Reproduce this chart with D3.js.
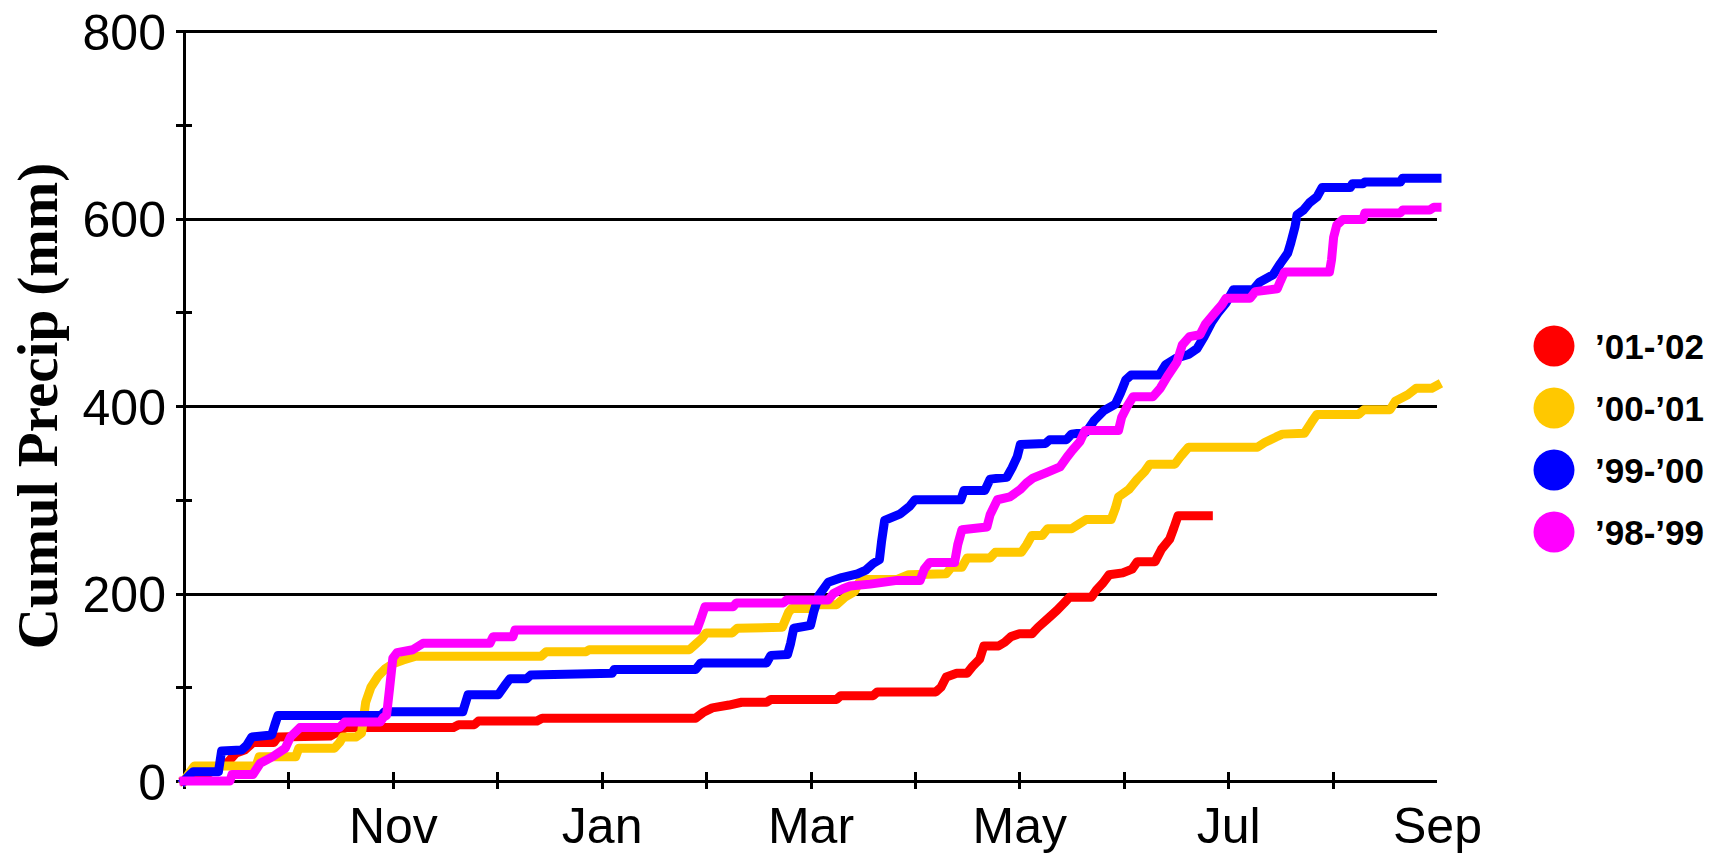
<!DOCTYPE html>
<html>
<head>
<meta charset="utf-8">
<script src="https://cdn.jsdelivr.net/npm/d3@7"></script>
<style>
  body { margin: 0; background: #fff; }
  svg { display: block; }
  .tick text { font-family: "Liberation Sans", Arial, sans-serif; font-size: 50px; fill: #000; }
</style>
</head>
<body>
<div id="chart"></div>
<script>
(function () {
  "use strict";

  // month index from 1 Sep (0) to 1 Sep next year (12), cumulative precip in mm
  const monthNames = ["Sep", "Oct", "Nov", "Dec", "Jan", "Feb", "Mar", "Apr", "May", "Jun", "Jul", "Aug", "Sep"];
  const yTicks = [0, 200, 400, 600, 800];
  const yMinor = [100, 300, 500, 700];

  const seasons = ["'01-'02", "'00-'01", "'99-'00", "'98-'99"].map(s => s.replace(/'/g, "\u2019"));
  const colors = ["#ff0000", "#ffc800", "#0000ff", "#ff00ff"];

  const s0102 = [
    [0, 0], [0.2, 6], [0.42, 20], [0.5, 30], [0.58, 33], [0.66, 41], [0.86, 41], [0.9, 47],
    [1.4, 48], [1.55, 57], [2.58, 57], [2.63, 60], [2.78, 60], [2.82, 64], [3.38, 64], [3.43, 67],
    [4.9, 67], [4.97, 73], [5.06, 78], [5.22, 81], [5.34, 84], [5.58, 84], [5.62, 87], [6.25, 87],
    [6.29, 91], [6.6, 91], [6.64, 95], [7.2, 95], [7.25, 100], [7.3, 111], [7.4, 115], [7.5, 115],
    [7.55, 122], [7.62, 130], [7.66, 144], [7.8, 144], [7.86, 148], [7.92, 154], [8.0, 157],
    [8.12, 157], [8.18, 164], [8.27, 173], [8.36, 182], [8.43, 190], [8.48, 196], [8.69, 196],
    [8.74, 204], [8.8, 211], [8.86, 220], [8.99, 222], [9.08, 226], [9.13, 234], [9.3, 234],
    [9.36, 247], [9.44, 258], [9.48, 270], [9.52, 283], [9.81, 283]
  ];

  const s0001 = [
    [0, 0], [0.06, 10], [0.1, 16], [0.69, 16], [0.72, 26], [1.07, 26], [1.1, 35], [1.44, 35],
    [1.49, 41], [1.52, 47], [1.65, 47], [1.7, 51], [1.74, 84], [1.79, 100], [1.86, 112],
    [1.93, 120], [2.0, 125], [2.1, 129], [2.22, 133], [3.42, 133], [3.47, 138], [3.85, 138],
    [3.88, 140], [4.84, 140], [4.9, 146], [4.96, 152], [5.0, 158], [5.25, 158], [5.3, 163],
    [5.73, 164], [5.79, 180], [5.82, 184], [6.0, 184], [6.05, 188], [6.25, 188], [6.33, 196],
    [6.42, 202], [6.48, 215], [6.83, 215], [6.94, 220], [7.3, 221], [7.35, 228], [7.45, 228],
    [7.5, 238], [7.72, 238], [7.77, 244], [8.02, 244], [8.07, 252], [8.12, 262], [8.22, 262],
    [8.27, 269], [8.5, 269], [8.57, 274], [8.64, 279], [8.88, 279], [8.92, 291], [8.95, 303],
    [9.05, 311], [9.13, 322], [9.2, 330], [9.25, 338], [9.49, 338], [9.55, 347], [9.62, 356],
    [10.28, 356], [10.35, 361], [10.46, 367], [10.52, 370], [10.73, 371], [10.8, 383],
    [10.85, 391], [11.25, 391], [11.3, 396], [11.55, 396], [11.6, 405], [11.72, 412],
    [11.8, 419], [11.95, 419], [12, 422]
  ];

  const s9900 = [
    [0, 0], [0.07, 8], [0.09, 10], [0.33, 10], [0.36, 32], [0.55, 33], [0.6, 38], [0.65, 47],
    [0.84, 49], [0.87, 60], [0.9, 70], [1.89, 70], [1.92, 74], [2.67, 74], [2.72, 92],
    [3.01, 92], [3.08, 103], [3.12, 109], [3.28, 109], [3.32, 113], [4.1, 115], [4.12, 119],
    [4.9, 119], [4.95, 126], [5.58, 126], [5.62, 134], [5.78, 135], [5.81, 147], [5.84, 163],
    [6.0, 166], [6.03, 180], [6.08, 198], [6.17, 212], [6.3, 217], [6.45, 221], [6.53, 225],
    [6.6, 232], [6.66, 236], [6.68, 255], [6.71, 278], [6.86, 285], [6.95, 293], [7.0, 300],
    [7.44, 300], [7.47, 310], [7.67, 310], [7.72, 322], [7.88, 324], [7.93, 334], [7.98, 346],
    [8.01, 359], [8.25, 360], [8.29, 364], [8.45, 364], [8.5, 370], [8.64, 372], [8.72, 385],
    [8.81, 395], [8.92, 402], [8.97, 414], [9.02, 428], [9.07, 433], [9.34, 433], [9.4, 444],
    [9.5, 451], [9.62, 455], [9.7, 461], [9.77, 474], [9.84, 489], [9.9, 499], [9.98, 510],
    [10.05, 524], [10.24, 524], [10.3, 532], [10.43, 540], [10.5, 552], [10.57, 563],
    [10.6, 574], [10.64, 591], [10.66, 604], [10.72, 609], [10.78, 617], [10.85, 623],
    [10.9, 633], [11.17, 633], [11.19, 637], [11.29, 637], [11.31, 639], [11.65, 639],
    [11.67, 643], [12, 643]
  ];

  const s9899 = [
    [0, 0], [0.44, 0], [0.46, 7], [0.66, 7], [0.73, 19], [0.85, 26], [0.97, 35], [1.02, 47],
    [1.11, 57], [1.49, 57], [1.54, 63], [1.88, 63], [1.91, 68], [1.94, 70], [1.97, 100],
    [2.0, 131], [2.04, 137], [2.19, 140], [2.29, 147], [2.93, 147], [2.96, 154], [3.15, 154],
    [3.17, 161], [4.91, 161], [4.95, 173], [4.99, 186], [5.26, 186], [5.29, 190], [5.74, 190],
    [5.77, 193], [6.17, 193], [6.22, 200], [6.31, 205], [6.38, 208], [6.57, 210], [6.83, 214],
    [7.05, 214], [7.09, 226], [7.14, 233], [7.38, 233], [7.41, 252], [7.45, 268], [7.69, 271],
    [7.72, 284], [7.79, 300], [7.91, 303], [8.01, 311], [8.07, 318], [8.13, 323], [8.26, 329],
    [8.39, 335], [8.46, 346], [8.51, 353], [8.58, 362], [8.63, 374], [8.95, 374], [8.98, 388],
    [9.03, 399], [9.09, 410], [9.28, 410], [9.35, 419], [9.42, 432], [9.51, 447], [9.56, 465],
    [9.63, 474], [9.73, 476], [9.78, 487], [9.87, 499], [9.94, 508], [9.98, 515], [10.21, 515],
    [10.26, 522], [10.47, 525], [10.5, 533], [10.54, 543], [10.97, 543], [10.99, 556],
    [11.01, 580], [11.04, 593], [11.1, 599], [11.29, 599], [11.31, 606], [11.65, 606],
    [11.67, 609], [11.93, 609], [11.97, 612], [12, 612]
  ];

  const seriesValues = [s0102, s0001, s9900, s9899];

  const width = 1709;
  const height = 853;
  const margin = { top: 31, right: 272, bottom: 72, left: 184 };

  const svg = d3.select("#chart")
    .append("svg")
    .attr("width", width)
    .attr("height", height);

  const x = d3.scaleLinear()
    .domain([0, 12])
    .range([margin.left, width - margin.right]);

  const y = d3.scaleLinear()
    .domain([0, 800])
    .range([height - margin.bottom, margin.top]);

  // y gridlines + labels (the 0 line doubles as the x axis)
  const yAxis = svg.append("g")
    .attr("transform", `translate(${x(0) - 8},0)`)
    .call(d3.axisLeft(y)
      .tickValues(yTicks)
      .tickSize(-(x(12) - x(0) + 8))
      .tickPadding(10)
      .tickFormat(d3.format("d")));
  yAxis.select(".domain").remove();
  yAxis.selectAll(".tick line")
    .attr("stroke", "#000")
    .attr("stroke-width", 3)
    .attr("shape-rendering", "crispEdges");
  yAxis.selectAll(".tick text").attr("dy", "0.36em");

  // minor y ticks crossing the axis
  const yMinorAxis = svg.append("g")
    .attr("transform", `translate(${x(0) + 8},0)`)
    .call(d3.axisLeft(y).tickValues(yMinor).tickSize(16).tickFormat(""));
  yMinorAxis.select(".domain").remove();
  yMinorAxis.selectAll(".tick line")
    .attr("stroke", "#000")
    .attr("stroke-width", 3)
    .attr("shape-rendering", "crispEdges");

  // left axis line
  svg.append("line")
    .attr("x1", x(0))
    .attr("x2", x(0))
    .attr("y1", y(800))
    .attr("y2", y(0) + 8)
    .attr("stroke", "#000")
    .attr("stroke-width", 3)
    .attr("shape-rendering", "crispEdges");

  // month ticks crossing the x axis (none at the right end)
  const xTickAxis = svg.append("g")
    .attr("transform", `translate(0,${y(0) - 9})`)
    .call(d3.axisBottom(x).tickValues(d3.range(1, 12)).tickSize(17).tickFormat(""));
  xTickAxis.select(".domain").remove();
  xTickAxis.selectAll(".tick line")
    .attr("stroke", "#000")
    .attr("stroke-width", 3)
    .attr("shape-rendering", "crispEdges");

  // month labels
  const xLabelAxis = svg.append("g")
    .attr("transform", `translate(0,${y(0)})`)
    .call(d3.axisBottom(x)
      .tickValues([2, 4, 6, 8, 10, 12])
      .tickSize(0)
      .tickPadding(26)
      .tickFormat(d => monthNames[d]));
  xLabelAxis.select(".domain").remove();

  // y title
  svg.append("text")
    .attr("transform", `translate(57,${(y(800) + y(0)) / 2}) rotate(-90)`)
    .attr("text-anchor", "middle")
    .style("font-family", "'Liberation Serif', 'Times New Roman', serif")
    .style("font-weight", "bold")
    .style("font-size", "57px")
    .text("Cumul Precip (mm)");

  // series lines
  const line = d3.line()
    .x(d => x(d[0]))
    .y(d => y(d[1]));

  svg.append("g")
    .selectAll("path")
    .data(seriesValues)
    .join("path")
    .attr("d", line)
    .attr("fill", "none")
    .attr("stroke", (d, i) => colors[i])
    .attr("stroke-width", 9)
    .attr("stroke-linejoin", "round")
    .attr("stroke-linecap", "square");

  // legend
  const legend = svg.append("g")
    .attr("transform", "translate(1554,346)");

  const item = legend.selectAll("g")
    .data(seasons)
    .join("g")
    .attr("transform", (d, i) => `translate(0,${i * 62})`);

  item.append("circle")
    .attr("r", 20.5)
    .attr("fill", (d, i) => colors[i]);

  item.append("text")
    .attr("x", 41)
    .attr("y", 12.5)
    .style("font-family", "'Liberation Sans', Arial, sans-serif")
    .style("font-weight", "bold")
    .style("font-size", "35px")
    .text(d => d);
})();
</script>
</body>
</html>
